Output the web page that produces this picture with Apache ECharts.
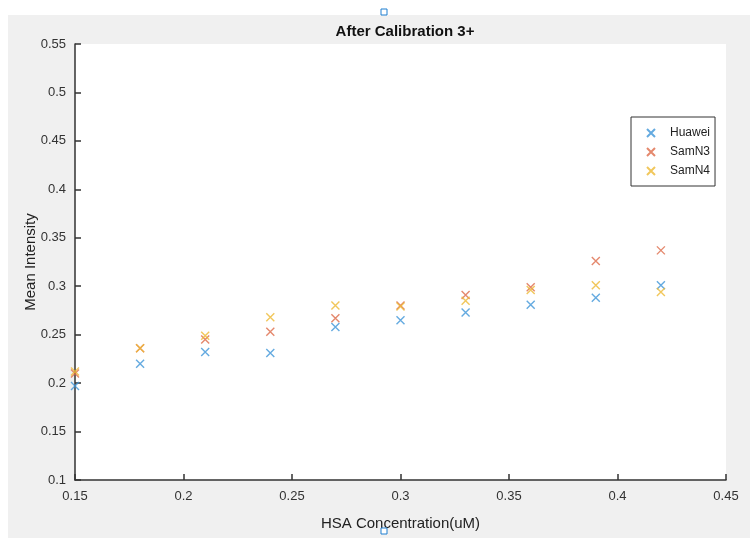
<!DOCTYPE html>
<html>
<head>
<meta charset="utf-8">
<script src="https://cdn.jsdelivr.net/npm/echarts@6/dist/echarts.min.js"></script>
<style>
  html, body { margin: 0; padding: 0; background: #fff; }
  #chart { width: 750px; height: 538px; }
</style>
</head>
<body>
<div id="chart"></div>
<script>
// concentration (x) and mean intensity per phone
var concentration = [0.15, 0.18, 0.21, 0.24, 0.27, 0.30, 0.33, 0.36, 0.39, 0.42];
var huawei = [0.197, 0.220, 0.232, 0.231, 0.258, 0.265, 0.273, 0.281, 0.288, 0.301];
var samN3  = [0.210, 0.236, 0.245, 0.253, 0.267, 0.280, 0.291, 0.299, 0.326, 0.337];
var samN4  = [0.212, 0.236, 0.249, 0.268, 0.280, 0.279, 0.285, 0.296, 0.301, 0.294];

var seriesNames = ['Huawei', 'SamN3', 'SamN4'];
var seriesColors = ['#3d95d8', '#dd6a48', '#eeb933'];

var cross = 'path://M0,0L10,10M10,0L0,10';
var font = '"Liberation Sans", Arial, sans-serif';

function pairs(ys) {
  return concentration.map(function (x, i) { return [x, ys[i]]; });
}

function fmt(v) { return String(parseFloat(v.toFixed(2))); }

var myChart = echarts.init(document.getElementById('chart'));
var option = {
  backgroundColor: '#ffffff',
  animation: false,
  textStyle: { fontFamily: font },
  graphic: [
    { type: 'rect', z: -100, shape: { x: 8, y: 15, width: 742, height: 523 }, style: { fill: '#f0f0f0' } },
    { type: 'rect', z: 100, shape: { x: 381, y: 9, width: 6, height: 6 }, style: { fill: '#fff', stroke: '#1f7fd0', lineWidth: 1 } },
    { type: 'rect', z: 100, shape: { x: 381, y: 528, width: 6, height: 6 }, style: { fill: '#fff', stroke: '#1f7fd0', lineWidth: 1 } }
  ],
  title: {
    text: 'After Calibration 3+',
    left: 400, top: 19, textAlign: 'center',
    textStyle: { fontFamily: font, fontSize: 15, fontWeight: 'bold', color: '#111' }
  },
  legend: {
    orient: 'vertical',
    left: 631, top: 117,
    padding: [10, 5, 9, 15],
    itemGap: 7,
    itemWidth: 8, itemHeight: 8,
    backgroundColor: '#fff',
    borderColor: '#333',
    borderWidth: 1,
    textStyle: { fontFamily: font, fontSize: 12, color: '#222', padding: [0, 0, 0, 10] },
    data: seriesNames
  },
  grid: {
    left: 75, right: 24, top: 44, bottom: 58,
    show: true, backgroundColor: '#ffffff', borderWidth: 0
  },
  xAxis: {
    type: 'value',
    min: 0.15, max: 0.45, interval: 0.05,
    name: 'HSA Concentration(uM)',
    nameLocation: 'middle', nameGap: 36,
    nameTextStyle: { fontFamily: font, fontSize: 15, color: '#222' },
    axisLine: { show: true, lineStyle: { color: '#333', width: 1.5 } },
    axisTick: { show: true, inside: true, length: 6, lineStyle: { color: '#333', width: 1.5 } },
    axisLabel: { formatter: fmt, fontFamily: font, fontSize: 13, color: '#333', margin: 10 },
    splitLine: { show: false }
  },
  yAxis: {
    type: 'value',
    min: 0.1, max: 0.55, interval: 0.05,
    name: 'Mean Intensity',
    nameLocation: 'middle', nameGap: 37,
    nameMoveOverlap: false,
    nameTextStyle: { fontFamily: font, fontSize: 15, color: '#222' },
    axisLine: { show: true, lineStyle: { color: '#333', width: 1.5 } },
    axisTick: { show: true, inside: true, length: 6, lineStyle: { color: '#333', width: 1.5 } },
    axisLabel: { formatter: fmt, fontFamily: font, fontSize: 13, color: '#333', margin: 9 },
    splitLine: { show: false }
  },
  series: [huawei, samN3, samN4].map(function (ys, i) {
    return {
      name: seriesNames[i],
      type: 'scatter',
      symbol: cross,
      symbolSize: 8,
      itemStyle: { color: 'transparent', borderColor: seriesColors[i], borderWidth: 1.4 },
      data: pairs(ys)
    };
  })
};
myChart.setOption(option);
</script>
</body>
</html>
